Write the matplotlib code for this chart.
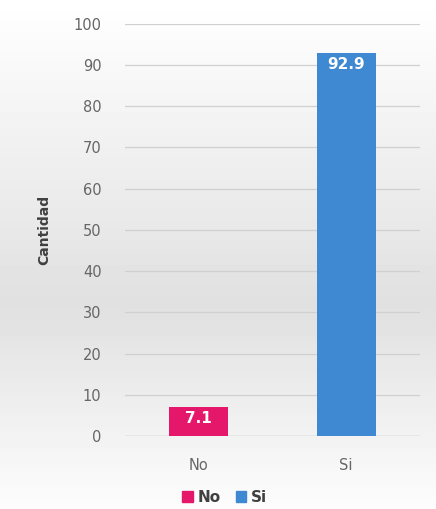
import matplotlib
matplotlib.use("Agg")
import matplotlib.pyplot as plt
import numpy as np

categories = ["No", "Si"]
values = [7.1, 92.9]
colors = ["#E5176A", "#3F88D2"]
yticks = [0, 10, 20, 30, 40, 50, 60, 70, 80, 90, 100]
ylabel = "Cantidad"

fig = plt.figure(figsize=(4.36, 5.09), dpi=100)
# background gradient
bg = fig.add_axes([0, 0, 1, 1], zorder=-10)
grad = np.concatenate([np.linspace(1.0, 0.88, 60), np.linspace(0.88, 0.99, 40)])
img = np.tile(grad[:, None], (1, 10))
bg.imshow(img, aspect="auto", cmap="gray", vmin=0, vmax=1, extent=[0, 1, 0, 1])
bg.axis("off")

ax = fig.add_axes([0.287, 0.1434, 0.676, 0.81])
ax.patch.set_alpha(0)
x = np.arange(len(categories))
bars = ax.bar(x, values, width=0.4, color=colors, zorder=3)
ax.set_xlim(-0.5, 1.5)
ax.set_ylim(0, 100)
ax.set_yticks(yticks)
ax.set_xticks(x)
ax.set_xticklabels(categories)
ax.grid(axis="y", color="#d0d0d0", linewidth=0.9, zorder=0)
for s in ax.spines.values():
    s.set_visible(False)
ax.axhline(0, color="#c8c8c8", linewidth=1, zorder=2)
ax.tick_params(axis="both", length=0, labelsize=10.5, colors="#666666")
ax.tick_params(axis="y", pad=17)
ax.tick_params(axis="x", pad=16)
ax.set_ylabel(ylabel, fontsize=10, fontweight="bold", color="#404040", labelpad=16)

for xi, v in zip(x, values):
    ax.text(xi, v - 1.0, f"{v}", ha="center", va="top", color="white",
            fontsize=11, fontweight="bold", zorder=4)

from matplotlib.patches import Patch
handles = [Patch(color=c, label=l) for c, l in zip(colors, categories)]
fig.legend(handles=handles, loc="center", bbox_to_anchor=(0.515, 0.023), ncol=2,
           frameon=False, handlelength=0.7, handleheight=0.7,
           handletextpad=0.3, columnspacing=1.0,
           prop={"weight": "bold", "size": 11})
for t in fig.legends[0].get_texts():
    t.set_color("#404040")

fig.savefig("out.png", dpi=100)
